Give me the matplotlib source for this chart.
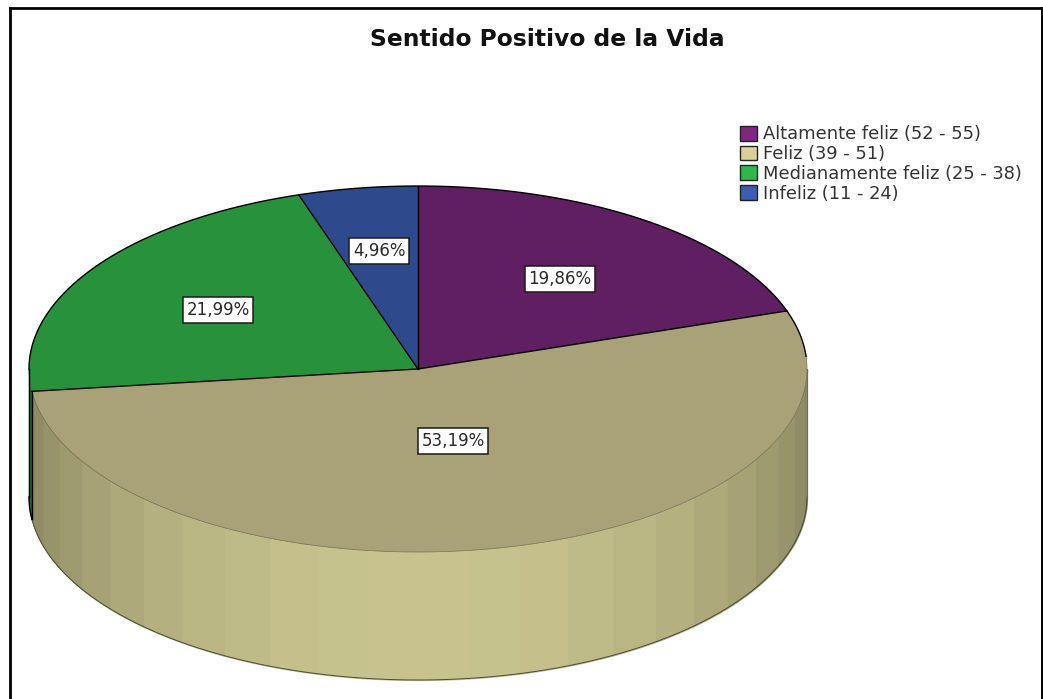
import numpy as np
import matplotlib
matplotlib.use('Agg')
import matplotlib.pyplot as plt
from matplotlib.lines import Line2D
from matplotlib.patches import Patch

W, H = 1043, 699

categories = ['Altamente feliz (52 - 55)', 'Feliz (39 - 51)',
              'Medianamente feliz (25 - 38)', 'Infeliz (11 - 24)']
values = [19.86, 53.19, 21.99, 4.96]
value_labels = ['19,86%', '53,19%', '21,99%', '4,96%']

top_colors = ['#5f1f62', '#a9a278', '#27923b', '#2e4a8c']
legend_colors = ['#7f2683', '#d8d09a', '#2db84b', '#3b5eb0']
side_colors = [None, (0.784, 0.765, 0.557), (0.16, 0.62, 0.25), None]

# pixel centres of the label boxes
label_xy = [(560, 279), (453, 441), (218, 310), (379, 251)]

fig = plt.figure(figsize=(W / 100, H / 100), dpi=100)
ax = fig.add_axes([29 / W, 1 - 552 / H, (807 - 29) / W, (552 - 186) / H])

# the pie is squashed by the axes, the wall hangs under it
wedges, _ = ax.pie(values, startangle=90, counterclock=False, colors=top_colors,
                   wedgeprops={'linewidth': 0})
ax.set_aspect('auto')
ax.set_xlim(-1, 1)
ax.set_ylim(-1, 1)
ax.axis('off')

depth = 128 / 183
bounds = np.cumsum([0] + values) / 100 * 360

for i, color in enumerate(side_colors):
    if color is None:
        continue
    a0 = max(bounds[i], 90)
    a1 = min(bounds[i + 1], 270)
    edges = list(np.arange(a0, a1, 7.5)) + [a1]
    for e0, e1 in zip(edges[:-1], edges[1:]):
        t = np.radians(np.linspace(e0, e1, 12))
        mid = np.radians((e0 + e1) / 2 - 180)
        shade = 0.68 + 0.32 * np.cos(mid) ** 1.3
        x = np.sin(t)
        y = np.cos(t)
        ax.fill_between(x, y - depth, y, color=[c * shade for c in color],
                        linewidth=0.9, clip_on=False, zorder=1)

for w in wedges:
    w.set_zorder(2)
    w.set_clip_on(False)

# outlines
t = np.radians(np.linspace(86, 270, 300))
ax.plot(np.sin(t), np.cos(t), color='#6e6c52', lw=0.5, clip_on=False, zorder=3)
t = np.radians(np.linspace(90, bounds[2], 300))
ax.plot(np.sin(t), np.cos(t) - depth, color='#4a4a38', lw=0.7, clip_on=False, zorder=3)
t = np.radians(np.linspace(bounds[2], 270, 20))
ax.plot(np.sin(t), np.cos(t) - depth, color='black', lw=1.0, clip_on=False, zorder=3)
t = np.radians(np.linspace(-90, 86, 300))
ax.plot(np.sin(t), np.cos(t), color='black', lw=1.0, clip_on=False, zorder=3)
for b in bounds[:-1]:
    r = np.radians(b)
    ax.plot([0, np.sin(r)], [0, np.cos(r)], color='black', lw=1.0, clip_on=False, zorder=3)
r = np.radians(bounds[2])
ax.plot([np.sin(r), np.sin(r)], [np.cos(r), np.cos(r) - depth], color='black', lw=1.0,
        clip_on=False, zorder=3)
ax.plot([-1, -1], [0, -depth], color='black', lw=1.0, clip_on=False, zorder=3)
ax.plot([1, 1], [0, -depth], color='#6b6a50', lw=0.6, clip_on=False, zorder=3)

for txt, (px, py) in zip(value_labels, label_xy):
    fig.text(px / W, 1 - py / H, txt, ha='center', va='center', fontsize=12, color='#2a2a2a',
             bbox={'facecolor': 'white', 'edgecolor': '#1a1a1a', 'linewidth': 1.1, 'pad': 2.6},
             zorder=5)

fig.text(547 / W, 1 - 39 / H, 'Sentido Positivo de la Vida', ha='center', va='center',
         fontsize=16.8, fontweight='bold', color='#111111')

handles = [Patch(facecolor=c, edgecolor='#222222', linewidth=1) for c in legend_colors]
fig.legend(handles, categories, loc='upper left', bbox_to_anchor=(735 / W, 1 - 120 / H),
           frameon=False, fontsize=12.85, handlelength=0.94, handleheight=0.89,
           handletextpad=0.33, labelspacing=0.1, labelcolor='#333333',
           borderpad=0.3, borderaxespad=0)

# frame runs off the bottom of the image
for xs, ys, lw in [((10, 10), (H, 8), 2.0), ((10, 1042), (8, 8), 2.0), ((1042, 1042), (8, H), 1.4)]:
    fig.add_artist(Line2D([x / W for x in xs], [1 - y / H for y in ys], color='black', lw=lw))

fig.savefig('out.png', dpi=100, facecolor='white')
